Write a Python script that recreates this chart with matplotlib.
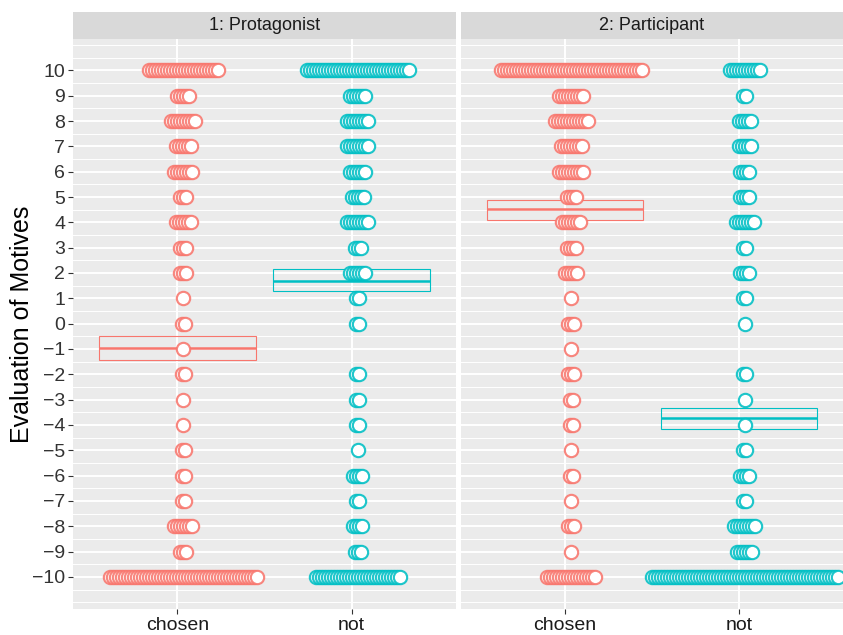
import numpy as np
import matplotlib.pyplot as plt
from matplotlib.colors import to_rgba
from matplotlib.patches import Rectangle

plt.rcParams['font.family'] = ['Liberation Sans', 'DejaVu Sans']

# rating scale (top to bottom) and number of dots per rating
values = list(range(10, -11, -1))
groups = ['chosen', 'not']
panels = ['1: Protagonist', '2: Participant']

p1_chosen = [24, 5, 9, 6, 7, 3, 6, 3, 3, 1, 2, 1, 2, 1, 1, 2, 2, 2, 7, 3, 50]
p1_not = [35, 6, 8, 8, 6, 5, 8, 3, 6, 2, 2, 0, 2, 2, 2, 1, 4, 2, 4, 3, 29]
p2_chosen = [48, 9, 12, 8, 9, 4, 7, 4, 5, 1, 3, 1, 3, 2, 2, 1, 2, 1, 3, 1, 17]
p2_not = [11, 2, 5, 5, 4, 4, 7, 2, 4, 2, 1, 0, 2, 1, 1, 2, 4, 2, 8, 6, 63]

# mean and lower/upper of the crossbar
p1_means = [-0.96, 1.70]
p1_lower = [-1.43, 1.27]
p1_upper = [-0.49, 2.16]
p2_means = [4.51, -3.72]
p2_lower = [4.10, -4.15]
p2_upper = [4.87, -3.32]

colors = ['#F8766D', '#00BFC4']

W, H = 843, 635
fig = plt.figure(figsize=(W / 100, H / 100), dpi=100)

panel_boxes = [(73, 456), (461, 843)]
top_px, bot_px, strip_top = 39, 609, 12

counts = [[p1_chosen, p1_not], [p2_chosen, p2_not]]
bars = [(p1_means, p1_lower, p1_upper), (p2_means, p2_lower, p2_upper)]

# dotplot geometry (pixels): dot diameter, stack ratio 0.2
dot_px = 15.0
stackratio = 0.2

for p, (x0, x1) in enumerate(panel_boxes):
    ax = fig.add_axes([x0 / W, (H - bot_px) / H, (x1 - x0) / W, (bot_px - top_px) / H])
    ax.set_facecolor('#EBEBEB')
    ax.set_xlim(0.4, 2.6)
    ax.set_ylim(-11.27, 11.24)
    px_per_x = (x1 - x0) / 2.2
    step = dot_px * stackratio / px_per_x
    offset = dot_px * (1 - stackratio) / 2 / px_per_x

    means, lower, upper = bars[p]
    for g in range(2):
        xc = g + 1
        ax.add_patch(Rectangle((xc - 0.45, lower[g]), 0.9, upper[g] - lower[g],
                               fill=False, edgecolor=colors[g], lw=0.8, zorder=2))
        ax.plot([xc - 0.45, xc + 0.45], [means[g], means[g]], color=colors[g],
                lw=1.8, zorder=2, solid_capstyle='butt')
        for v, n in zip(values, counts[p][g]):
            if n == 0:
                continue
            xs = xc + offset + (np.arange(n) - (n - 1) / 2) * step
            ax.scatter(xs, np.full(n, v), s=92, facecolor='white',
                       edgecolor=to_rgba(colors[g], 0.88), linewidth=1.55, zorder=3)

    ax.set_xticks([1, 2])
    ax.set_xticklabels(groups)
    ax.set_yticks(values)
    ax.set_yticks(np.arange(-11, 11.5, 0.5), minor=True)
    ax.set_axisbelow(True)
    ax.grid(which='major', color='white', lw=1.4)
    ax.grid(which='minor', axis='y', color='white', lw=0.7)
    for s in ax.spines.values():
        s.set_visible(False)
    ax.tick_params(which='minor', length=0)
    ax.tick_params(axis='x', length=3.5, width=0.8, color='#333333',
                   labelsize=14, labelcolor='#1A1A1A', pad=2)
    if p == 0:
        ax.tick_params(axis='y', length=3.5, width=0.8, color='#333333',
                       labelsize=14, labelcolor='#333333', pad=2)
    else:
        ax.tick_params(axis='y', length=0, labelleft=False)

    # facet strip
    sax = fig.add_axes([x0 / W, (H - top_px) / H, (x1 - x0) / W, (top_px - strip_top) / H])
    sax.set_facecolor('#D9D9D9')
    sax.set_xticks([])
    sax.set_yticks([])
    for s in sax.spines.values():
        s.set_visible(False)
    sax.text(0.5, 0.5, panels[p], ha='center', va='center', fontsize=13,
             color='#1A1A1A', transform=sax.transAxes)

fig.text(22 / W, 1 - ((top_px + bot_px) / 2) / H, 'Evaluation of Motives',
         rotation=90, ha='center', va='center', fontsize=18, color='black')

plt.savefig('out.png', dpi=100)
